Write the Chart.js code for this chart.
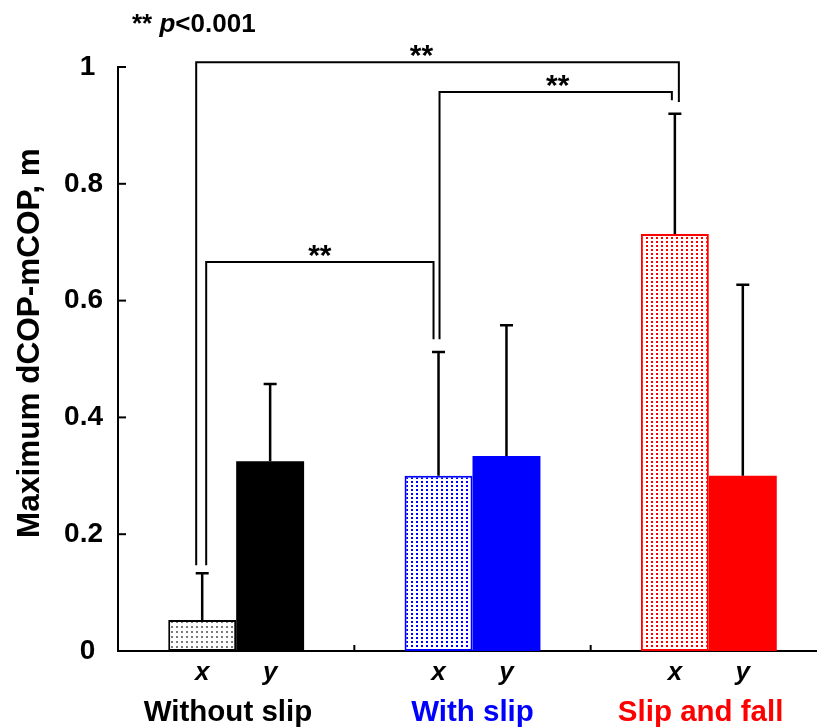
<!DOCTYPE html>
<html>
<head>
<meta charset="utf-8">
<script src="https://cdn.jsdelivr.net/npm/chart.js@4.4.0/dist/chart.umd.min.js"></script>
<style>
    html, body { margin: 0; padding: 0; background: #fff; overflow: hidden; }
    /* the original plot runs a little past the right edge of the picture */
    #wrap { width: 817px; height: 728px; overflow: hidden; position: relative; }
    #dcopChart { display: block; }
</style>
</head>
<body>
<div id="wrap"><canvas id="dcopChart" width="827" height="728"></canvas></div>
<script>
const groups = ['Without slip', 'With slip', 'Slip and fall'];
const seriesNames = ['x', 'y'];
const xMeans = [0.053, 0.300, 0.714];
const xSd = [0.080, 0.212, 0.206];
const yMeans = [0.325, 0.334, 0.300];
const ySd = [0.132, 0.224, 0.327];
const yTicks = [0, 0.2, 0.4, 0.6, 0.8, 1];
const yTitle = 'Maximum dCOP-mCOP, m';

// significance brackets between the x bars of two groups
const bracketPairs = [[0, 2], [1, 2], [0, 1]];
const bracketLevels = [1.008, 0.957, 0.666];
const bracketEndsA = [0.147, 0.534, 0.147];
const bracketEndsB = [0.940, 0.943, 0.534];
const bracketText = '**';
const noteStars = '** ';
const noteP = 'p';
const noteRest = '<0.001';

const groupColors = ['#000000', '#0000ff', '#ff0000'];
const dotColors = ['#7a7a7a', '#0000ff', '#ff0000'];
const FONT = '"Liberation Sans", Arial, Helvetica, sans-serif';

Chart.defaults.font.family = FONT;
Chart.defaults.color = '#000';

function makeDots(color, w, h) {
    const c = document.createElement('canvas');
    c.width = w;
    c.height = h;
    const g = c.getContext('2d');
    g.fillStyle = '#fff';
    g.fillRect(0, 0, w, h);
    g.fillStyle = color;
    g.fillRect(1, 1, 2, 2);
    return document.getElementById('dcopChart').getContext('2d').createPattern(c, 'repeat');
}

const xFills = dotColors.map((col, i) => i === 0 ? makeDots(col, 5, 5) : makeDots(col, 5, 4));

// position tweaks for the brackets (pixels)
const bracketDxA = [-6, 1, 4];
const bracketDxB = [4, -3, -5];
const starDx = [-16, 2, 0];

const extras = {
    id: 'extras',
    afterDatasetsDraw(chart) {
        const ctx = chart.ctx;
        const xs = chart.scales.x;
        const ys = chart.scales.y;
        const area = chart.chartArea;
        const metaX = chart.getDatasetMeta(0).data;
        const metaY = chart.getDatasetMeta(1).data;
        ctx.save();
        ctx.strokeStyle = '#000';

        // error bars
        const sds = [xSd, ySd];
        const means = [xMeans, yMeans];
        ctx.lineWidth = 2.5;
        [metaX, metaY].forEach((bars, d) => {
            bars.forEach((bar, i) => {
                const top = ys.getPixelForValue(means[d][i] + sds[d][i]);
                ctx.beginPath();
                ctx.moveTo(bar.x, bar.y);
                ctx.lineTo(bar.x, top);
                ctx.moveTo(bar.x - 6.5, top);
                ctx.lineTo(bar.x + 6.5, top);
                ctx.stroke();
            });
        });

        // brackets
        ctx.lineWidth = 2;
        ctx.font = 'bold 30px ' + FONT;
        ctx.fillStyle = '#000';
        ctx.textAlign = 'center';
        ctx.textBaseline = 'alphabetic';
        bracketPairs.forEach((pair, k) => {
            const xa = metaX[pair[0]].x + bracketDxA[k];
            const xb = metaX[pair[1]].x + bracketDxB[k];
            const yl = ys.getPixelForValue(bracketLevels[k]);
            ctx.beginPath();
            ctx.moveTo(xa, ys.getPixelForValue(bracketEndsA[k]));
            ctx.lineTo(xa, yl);
            ctx.lineTo(xb, yl);
            ctx.lineTo(xb, ys.getPixelForValue(bracketEndsB[k]));
            ctx.stroke();
            ctx.fillText(bracketText, (xa + xb) / 2 + starDx[k], yl + 3);
        });

        // inward tick marks
        yTicks.forEach(v => {
            const py = ys.getPixelForValue(v);
            ctx.beginPath();
            ctx.moveTo(area.left, py);
            ctx.lineTo(area.left + 8, py);
            ctx.stroke();
        });
        for (let i = 0; i < groups.length - 1; i++) {
            const px = (xs.getPixelForValue(i) + xs.getPixelForValue(i + 1)) / 2;
            ctx.beginPath();
            ctx.moveTo(px, area.bottom);
            ctx.lineTo(px, area.bottom - 6);
            ctx.stroke();
        }

        // x / y labels under bars
        ctx.font = 'italic bold 26px ' + FONT;
        ctx.textBaseline = 'middle';
        [metaX, metaY].forEach((bars, d) => {
            bars.forEach(bar => ctx.fillText(seriesNames[d], bar.x, 673));
        });

        // y axis title
        ctx.save();
        ctx.font = 'bold 31.5px ' + FONT;
        ctx.translate(30, 343);
        ctx.rotate(-Math.PI / 2);
        ctx.fillText(yTitle, 0, 0);
        ctx.restore();

        // p note
        ctx.textAlign = 'left';
        ctx.textBaseline = 'alphabetic';
        let nx = 132;
        ctx.font = 'bold 26px ' + FONT;
        ctx.fillText(noteStars, nx, 32);
        nx += ctx.measureText(noteStars).width;
        ctx.font = 'italic bold 26px ' + FONT;
        ctx.fillText(noteP, nx, 32);
        nx += ctx.measureText(noteP).width;
        ctx.font = 'bold 26px ' + FONT;
        ctx.fillText(noteRest, nx, 32);
        ctx.restore();
    }
};

new Chart(document.getElementById('dcopChart'), {
    type: 'bar',
    data: {
        labels: groups,
        datasets: [{
            label: seriesNames[0],
            data: xMeans,
            backgroundColor: xFills,
            borderColor: groupColors,
            borderWidth: 2,
            borderSkipped: false,
            categoryPercentage: 0.575,
            barPercentage: 1.0
        }, {
            label: seriesNames[1],
            data: yMeans,
            backgroundColor: groupColors,
            borderWidth: 0,
            categoryPercentage: 0.575,
            barPercentage: 1.0
        }]
    },
    options: {
        responsive: false,
        animation: false,
        devicePixelRatio: 1,
        layout: { padding: { top: 67, right: 0, bottom: 0, left: 0 } },
        plugins: {
            legend: { display: false },
            tooltip: { enabled: false }
        },
        scales: {
            x: {
                offset: true,
                grid: { display: false, drawTicks: false },
                border: { display: true, color: '#000', width: 2 },
                ticks: {
                    color: c => groupColors[c.index],
                    font: { size: 29.5, weight: 'bold' },
                    padding: 9,
                    maxRotation: 0,
                    // empty first line leaves room for the x / y row;
                    // outer labels sit a little toward the middle in the original
                    callback: (v, i) => ['', i === 1 ? groups[i] : groups[i] + '  ']
                },
                afterFit: s => { s.height = 77; }
            },
            y: {
                min: 0,
                max: 1,
                afterBuildTicks: s => { s.ticks = yTicks.map(v => ({ value: v })); },
                grid: { display: false, drawTicks: false },
                border: { display: true, color: '#000', width: 2 },
                ticks: {
                    color: '#000',
                    font: { size: 28, weight: 'bold' },
                    padding: 15,
                    callback: v => (v === 0 || v === 1) ? String(v) + ' ' : v.toFixed(1)
                },
                afterFit: s => { s.width = 118; }
            }
        }
    },
    plugins: [extras]
});
</script>
</body>
</html>
